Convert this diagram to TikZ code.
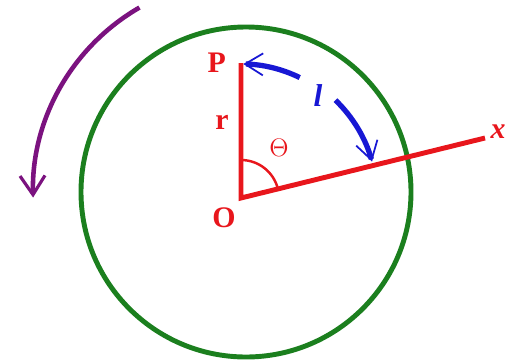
\documentclass[tikz,border=0pt]{standalone}
\usepackage{fontspec}
\setmainfont{Liberation Serif}
\usetikzlibrary{arrows.meta,positioning,calc}
\definecolor{Rim}{HTML}{1B7F1E}
\definecolor{Axis}{HTML}{E8161C}
\definecolor{Sweep}{HTML}{1717D4}
\definecolor{Spin}{HTML}{7B127F}
\tikzset{rim/.style={draw=Rim,line width=2.8pt},
  axisline/.style={draw=Axis,line width=2.8pt},
  anglemark/.style={draw=Axis,line width=1.4pt},
  lab/.style={text=Axis,font=\fontsize{17}{20}\selectfont\bfseries,inner sep=1pt},
  sweep/.style={draw=Sweep,line width=3pt,
    -{Straight Barb[length=3.6mm,width=4.4mm,line width=1pt]}},
  spin/.style={draw=Spin,line width=2.6pt,
    -{Straight Barb[length=3.8mm,width=5mm,line width=1.8pt]}}}

\begin{document}
\begin{tikzpicture}[x=0.02cm,y=0.02cm]
    \useasboundingbox (0,0) rectangle (524,363);
    \coordinate (C) at (246,171);
    \coordinate (O) at (241,165);
    \coordinate (P) at (241,300);
    \coordinate (X) at (485,225);
    \draw[rim] (C) circle[radius=165];
    \draw[axisline] (P) -- (O) -- (X);
    \draw[anglemark] ($(O)+(13.8:38)$) arc[start angle=13.8,end angle=90,radius=38];
    \coordinate (s1) at ($(O)+(64:134)$);
    \coordinate (s2) at ($(O)+(46:136)$);
    \draw[sweep] (s1) arc[start angle=64,end angle=89,radius=134];
    \draw[sweep] (s2) arc[start angle=46,end angle=15.5,radius=136];
    \coordinate (w) at ($(C)+(120:213)$);
    \draw[spin] (w) arc[start angle=120,end angle=181.5,radius=213];
    \node[lab,left=2.6mm of P] (lP) {P};
    \node[lab] (lr) at (222,241) {r};
    \node[lab] (lO) at (224,145) {O};
    \node[lab,font=\fontsize{17}{20}\selectfont\bfseries\itshape] (lx) at (498,231) {x};
    \node[text=Axis,font=\fontsize{14}{16}\selectfont] (lt) at (279,215) {$\Theta$};
    \node[text=Sweep,font=\fontsize{18}{21}\selectfont\bfseries\itshape] (ll) at (318,267) {l};
\end{tikzpicture}
\end{document}
